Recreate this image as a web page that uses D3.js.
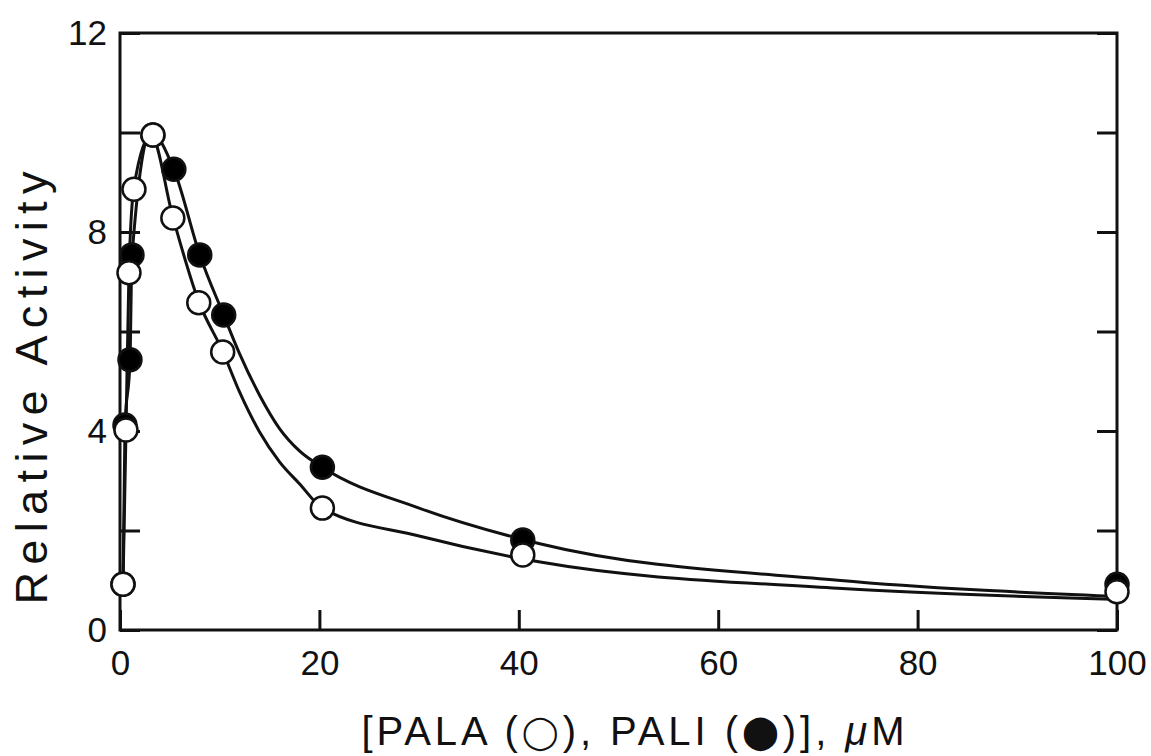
<!DOCTYPE html>
<html>
<head>
<meta charset="utf-8">
<script src="https://cdn.jsdelivr.net/npm/d3@7"></script>
<style>
	body { margin: 0; background: #fff; }
	svg { display: block; }
	text { font-family: "Liberation Sans", Arial, Helvetica, sans-serif; fill: #111; }
</style>
</head>
<body>
<svg id="chart" width="1151" height="756"></svg>
<script>
// PALA (open circles)
var palaX = [0.3, 0.6, 0.9, 1.4, 3.3, 5.3, 7.9, 10.3, 20.3, 40.4, 100];
var palaY = [0.92, 4.02, 7.18, 8.86, 9.95, 8.28, 6.58, 5.59, 2.45, 1.51, 0.77];

// PALI (filled circles)
var paliX = [0.3, 0.5, 1.0, 1.2, 3.3, 5.4, 8.0, 10.4, 20.3, 40.4, 100];
var paliY = [0.92, 4.12, 5.43, 7.54, 9.95, 9.26, 7.54, 6.33, 3.27, 1.81, 0.92];

// fitted curves
var palaFitX = [0.3, 0.6, 0.9, 1.4, 3.1, 5.3, 7.9, 10.3, 12, 14, 16, 18, 20.3, 30, 42, 72, 99.5];
var palaFitY = [0.9, 4.0, 7.2, 8.9, 9.95, 8.3, 6.6, 5.6, 4.78, 3.98, 3.38, 2.94, 2.45, 1.89, 1.37, 0.84, 0.62];
var paliFitX = [0.3, 0.5, 1.0, 1.2, 3.1, 5.4, 8.0, 10.4, 12, 14, 16, 18, 20.3, 30, 42, 72, 99.5];
var paliFitY = [0.9, 4.1, 5.4, 7.5, 10.0, 9.26, 7.54, 6.33, 5.55, 4.72, 4.05, 3.6, 3.27, 2.45, 1.74, 1.0, 0.68];

var xTicks = [0, 20, 40, 60, 80, 100];
var yTicks = [0, 2, 4, 6, 8, 10, 12];
var yLabels = [0, 4, 8, 12];

var svg = d3.select("#chart");

var plot = {left: 120, right: 1117, top: 33, bottom: 630};

var x = d3.scaleLinear().domain([0, 100]).range([plot.left, plot.right]),
		y = d3.scaleLinear().domain([0, 12]).range([plot.bottom, plot.top]);

function zip(xs, ys) {
	return xs.map(function(d, i) { return {x: d, y: ys[i]}; });
}

// axes, ticks pointing inward
var gx = svg.append("g")
	.attr("transform", "translate(0," + plot.bottom + ")")
	.call(d3.axisBottom(x).tickValues(xTicks).tickSizeInner(-20).tickSizeOuter(0).tickPadding(20));

var gy = svg.append("g")
	.attr("transform", "translate(" + plot.left + ",0)")
	.call(d3.axisLeft(y).tickValues(yTicks).tickSizeInner(-20).tickSizeOuter(0).tickPadding(13)
		.tickFormat(function(d) { return yLabels.indexOf(d) >= 0 ? d : ""; }));

var gr = svg.append("g")
	.attr("transform", "translate(" + plot.right + ",0)")
	.call(d3.axisRight(y).tickValues(yTicks).tickSizeInner(-20).tickSizeOuter(0).tickFormat(""));

[gx, gy, gr].forEach(function(g) {
	g.attr("font-size", null).attr("font-family", null);
	g.select(".domain").remove();
	g.selectAll(".tick line").attr("stroke", "#111").attr("stroke-width", 3);
	g.selectAll(".tick text").attr("font-size", 35).attr("fill", "#111");
});

// frame
svg.append("rect")
	.attr("x", plot.left)
	.attr("y", plot.top)
	.attr("width", plot.right - plot.left)
	.attr("height", plot.bottom - plot.top)
	.attr("fill", "none")
	.attr("stroke", "#111")
	.attr("stroke-width", 3);

// curves
var line = d3.line()
	.curve(d3.curveMonotoneX)
	.x(function(d) { return x(d.x); })
	.y(function(d) { return y(d.y); });

[zip(palaFitX, palaFitY), zip(paliFitX, paliFitY)].forEach(function(data) {
	svg.append("path")
		.datum(data)
		.attr("d", line)
		.attr("fill", "none")
		.attr("stroke", "#111")
		.attr("stroke-width", 3);
});

// points: filled below, open on top
svg.append("g").selectAll("circle")
	.data(zip(paliX, paliY))
	.join("circle")
		.attr("cx", function(d) { return x(d.x); })
		.attr("cy", function(d) { return y(d.y); })
		.attr("r", 11.5)
		.attr("fill", "#000")
		.attr("stroke", "#111")
		.attr("stroke-width", 2.5);

svg.append("g").selectAll("circle")
	.data(zip(palaX, palaY))
	.join("circle")
		.attr("cx", function(d) { return x(d.x); })
		.attr("cy", function(d) { return y(d.y); })
		.attr("r", 11.5)
		.attr("fill", "#fff")
		.attr("stroke", "#111")
		.attr("stroke-width", 2.5);

// axis titles
svg.append("text")
	.attr("transform", "translate(47,388) rotate(-90)")
	.attr("text-anchor", "middle")
	.attr("font-size", 45)
	.attr("textLength", 433)
	.attr("lengthAdjust", "spacing")
	.text("Relative Activity");

var xt = svg.append("text")
	.attr("x", 633)
	.attr("y", 745)
	.attr("text-anchor", "middle")
	.attr("font-size", 40)
	.attr("textLength", 543)
	.attr("lengthAdjust", "spacing");
xt.append("tspan").text("[PALA (");
xt.append("tspan").attr("font-family", "'DejaVu Sans'").attr("font-size", 33).attr("dy", -2).text("\u25EF");
xt.append("tspan").attr("dy", 2).text("), PALI (");
xt.append("tspan").attr("font-family", "'DejaVu Sans'").attr("font-size", 33).attr("dy", -2).text("\u2B24");
xt.append("tspan").attr("dy", 2).text(")], ");
xt.append("tspan").attr("font-style", "italic").text("\u03BC");
xt.append("tspan").text("M");
</script>
</body>
</html>
